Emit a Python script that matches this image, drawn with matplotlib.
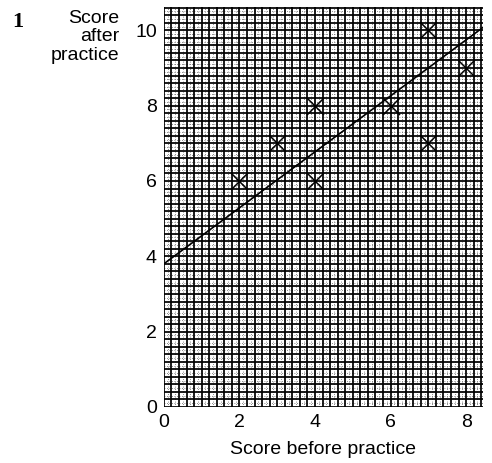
import numpy as np
import matplotlib.pyplot as plt

plt.rcParams['font.family'] = ['Liberation Sans', 'DejaVu Sans']

before = [2, 3, 4, 4, 6, 7, 7, 8]
after = [6, 7, 8, 6, 8, 10, 7, 9]
line_x = [0, 8.45]
line_y = [3.8, 10.08]
ticks = [0, 2, 4, 6, 8]
yticks = [0, 2, 4, 6, 8, 10]

fig = plt.figure(figsize=(4.92, 4.63), dpi=100)
ax = fig.add_axes([0.333, 0.121, 0.649, 0.864])
ax.set_xlim(0, 8.45)
ax.set_ylim(0, 10.62)

# graph paper
for v in np.arange(0.1, 8.45, 0.2):
    ax.axvline(v, color='0.4', lw=0.6, ls=(0, (1, 2)), zorder=1)
for v in np.arange(0.1, 10.62, 0.2):
    ax.axhline(v, color='0.4', lw=0.6, ls=(0, (1, 2)), zorder=1)
for v in np.arange(0, 8.45, 0.2):
    ax.axvline(v, color='black', lw=1.25, zorder=2)
for v in np.arange(0, 10.62, 0.2):
    ax.axhline(v, color='black', lw=1.25, zorder=2)

ax.plot(line_x, line_y, color='black', lw=1.2, zorder=4)
ax.scatter(before, after, marker='x', s=150, color='black', linewidths=1.1,
           zorder=5)

for s in ax.spines.values():
    s.set_visible(False)
ax.set_xticks(ticks)
ax.set_yticks(yticks)
ax.tick_params(length=0, labelsize=14, pad=5)
ax.set_xlabel('Score before practice', fontsize=14, labelpad=7)

fig.text(0.242, 0.978, 'Score\nafter\npractice', ha='right', va='top',
         fontsize=14, linespacing=1.1)
fig.text(0.025, 0.975, '1', ha='left', va='top', fontsize=16,
         family='Liberation Serif', weight='bold')

fig.savefig('out.png', dpi=100)
